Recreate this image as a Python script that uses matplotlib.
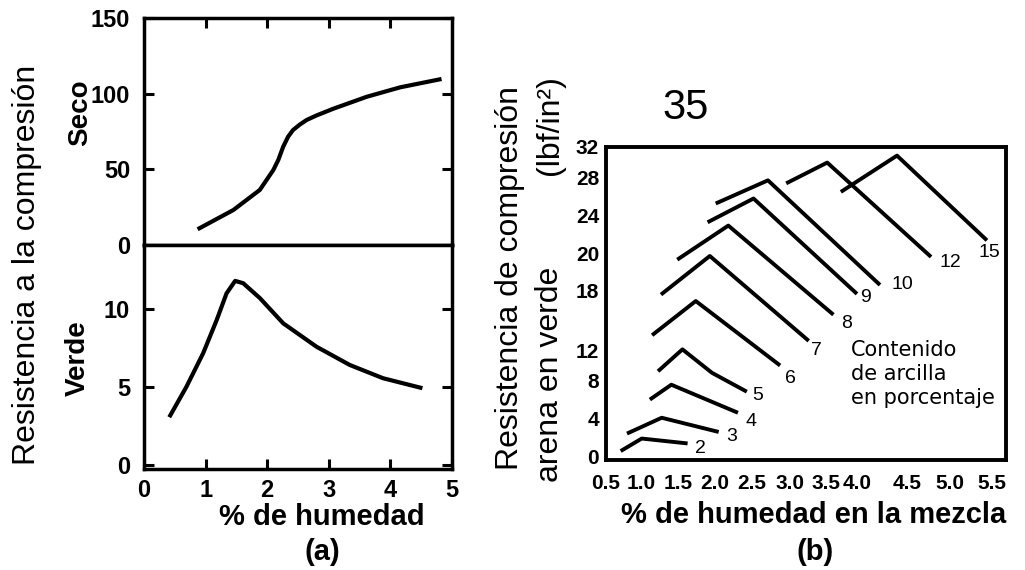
import numpy as np
import matplotlib
matplotlib.use('Agg')
import matplotlib.pyplot as plt

plt.rcParams['font.family'] = ['Liberation Sans', 'DejaVu Sans']

# (a) resistencia vs % humedad
seco_x = [0.87, 1.45, 1.88, 1.99, 2.10, 2.18, 2.26, 2.34, 2.42, 2.53, 2.64, 2.80, 3.07,
          3.62, 4.16, 4.83]
seco_y = [10.4, 23.1, 36.4, 43.0, 49.6, 56.2, 65.0, 71.6, 76.0, 79.6, 82.6, 85.6, 90.0,
          98.0, 104.2, 109.7]
verde_x = [0.41, 0.69, 0.96, 1.18, 1.34, 1.48, 1.61, 1.88, 2.26, 2.80, 3.34, 3.88, 4.52]
verde_y = [3.06, 5.02, 7.16, 9.29, 11.0, 11.8, 11.65, 10.7, 9.08, 7.58, 6.41, 5.56, 4.92]

# (b) one curve per clay content
clay = ['2', '3', '4', '5', '6', '7', '8', '9', '10', '12', '15']
hum = [
    [0.71, 1.01, 1.63],
    [0.80, 1.28, 2.05],
    [1.12, 1.41, 2.31],
    [1.23, 1.56, 1.96, 2.43],
    [1.15, 1.74, 2.87],
    [1.27, 1.93, 3.26],
    [1.49, 2.18, 3.62],
    [1.90, 2.52, 4.00],
    [2.01, 2.71, 4.23],
    [2.95, 3.52, 4.78],
    [3.74, 4.40, 5.44],
]
res = [
    [0.53, 1.86, 1.34],
    [2.39, 4.07, 2.56],
    [6.0, 7.58, 4.6],
    [9.24, 12.07, 9.03, 6.84],
    [13.5, 16.95, 9.99],
    [17.6, 19.89, 12.93],
    [19.69, 22.94, 15.57],
    [23.28, 25.79, 17.67],
    [25.26, 27.72, 18.31],
    [27.4, 29.97, 19.84],
    [26.49, 30.88, 21.41],
]
xt_vals = [0.5, 1.0, 1.5, 2.0, 2.5, 3.0, 3.5, 4.0, 4.5, 5.0, 5.5]
yt_vals = [0, 4, 8, 12, 18, 20, 24, 28, 32]

# the printed axis of (b) is unevenly spaced -> piecewise scale
xt_pos = [0, 35, 72, 109, 146, 184, 220, 251, 301, 344, 386]
yt_pos = [0, 38, 76, 107, 167, 204, 243, 281, 312]
lab_off = [(13, -5), (13, -5), (13, -9), (11, -4), (10, -13), (8, -10),
           (13, -9), (9, -4), (22, 0), (19, -6), (2, -12)]


def piecewise(vals, pos):
    a0 = np.asarray(vals, float)
    b0 = np.asarray(pos, float)

    def lin(v, a, b):
        v = np.asarray(v, float)
        out = np.interp(v, a, b)
        s0 = (b[1] - b[0]) / (a[1] - a[0])
        s1 = (b[-1] - b[-2]) / (a[-1] - a[-2])
        out = np.where(v < a[0], b[0] + (v - a[0]) * s0, out)
        out = np.where(v > a[-1], b[-1] + (v - a[-1]) * s1, out)
        return out
    return (lambda v: lin(v, a0, b0)), (lambda p: lin(p, b0, a0))


W, H = 1025, 570
fig = plt.figure(figsize=(W / 100, H / 100), dpi=100)


def px(x0, y0, x1, y1):
    return [x0 / W, 1 - y1 / H, (x1 - x0) / W, (y1 - y0) / H]


def ftext(x, y, s, **kw):
    fig.text(x / W, 1 - y / H, s, ha='center', va='center', **kw)


ax1 = fig.add_axes(px(144, 18, 452, 245))
ax2 = fig.add_axes(px(144, 245, 452, 469))

ax1.plot(seco_x, seco_y, color='black', lw=3, solid_capstyle='butt', solid_joinstyle='round')
ax2.plot(verde_x, verde_y, color='black', lw=3, solid_capstyle='butt', solid_joinstyle='round')

ax1.set_xlim(0, 5)
ax1.set_ylim(0, 150)
ax2.set_xlim(0, 5)
ax2.set_ylim(-0.26, 14.1)

for a in (ax1, ax2):
    for sp in a.spines.values():
        sp.set_linewidth(2.5)

ax1.set_xticks([1, 2, 3, 4])
ax1.set_yticks([0, 50, 100, 150], labels=['0', '50', '100', '150'], fontweight='bold')
ax1.tick_params(axis='x', top=True, bottom=False, labelbottom=False,
                direction='in', length=7, width=2.2)
ax1.tick_params(axis='y', left=True, right=True, direction='in', length=7,
                width=2.2, labelsize=17, pad=10)

ax2.set_xticks([0, 1, 2, 3, 4, 5], labels=['0', '1', '2', '3', '4', '5'], fontweight='bold')
ax2.set_yticks([0, 5, 10], labels=['0', '5', '10'], fontweight='bold')
ax2.tick_params(axis='x', direction='in', length=7, width=2.2, labelsize=17, pad=7)
ax2.tick_params(axis='y', left=True, right=True, direction='in', length=7,
                width=2.2, labelsize=17, pad=10)

ftext(27, 265, 'Resistencia a la compresión', rotation=90, fontsize=23)
ftext(80, 113, 'Seco', rotation=90, fontsize=20, fontweight='bold')
ftext(78, 358, 'Verde', rotation=90, fontsize=20, fontweight='bold')
ftext(322, 517, '% de humedad', fontsize=21, fontweight='bold')
ftext(322, 552, '(a)', fontsize=21, fontweight='bold')

# panel (b)
ax3 = fig.add_axes(px(606, 147, 1006, 460))
ax3.set_xscale('function', functions=piecewise(xt_vals, xt_pos))
ax3.set_yscale('function', functions=piecewise(yt_vals, yt_pos))
ax3.set_xlim(0.5, 5.667)
ax3.set_ylim(-0.42, 31.6)

for i in range(len(clay)):
    ax3.plot(hum[i], res[i], color='black', lw=2.8, solid_joinstyle='round',
             solid_capstyle='butt')
    ax3.annotate(clay[i], xy=(hum[i][-1], res[i][-1]), xytext=lab_off[i],
                 textcoords='offset pixels', ha='center', va='center', fontsize=14)

ax3.set_xticks(xt_vals, labels=[f'{v:.1f}' for v in xt_vals], fontweight='bold')
ax3.set_yticks(yt_vals, labels=[str(v) for v in yt_vals], fontweight='bold')
ax3.tick_params(length=0, labelsize=15)
ax3.tick_params(axis='x', pad=10)
ax3.tick_params(axis='y', pad=5)
for sp in ax3.spines.values():
    sp.set_linewidth(2.8)

fig.text(851 / W, 1 - 340 / H, 'Contenido\nde arcilla\nen porcentaje',
         ha='left', va='top', fontsize=15, family='DejaVu Sans', linespacing=1.25)

ftext(686, 108, '35', fontsize=30)
ftext(510, 278, 'Resistencia de compresión', rotation=90, fontsize=23)
ftext(550, 374, 'arena en verde', rotation=90, fontsize=23)
ftext(550, 125, '(lbf/in²)', rotation=90, fontsize=23)
ftext(814, 515, '% de humedad en la mezcla', fontsize=21, fontweight='bold')
ftext(815, 552, '(b)', fontsize=21, fontweight='bold')

fig.savefig('out.png', dpi=100)
